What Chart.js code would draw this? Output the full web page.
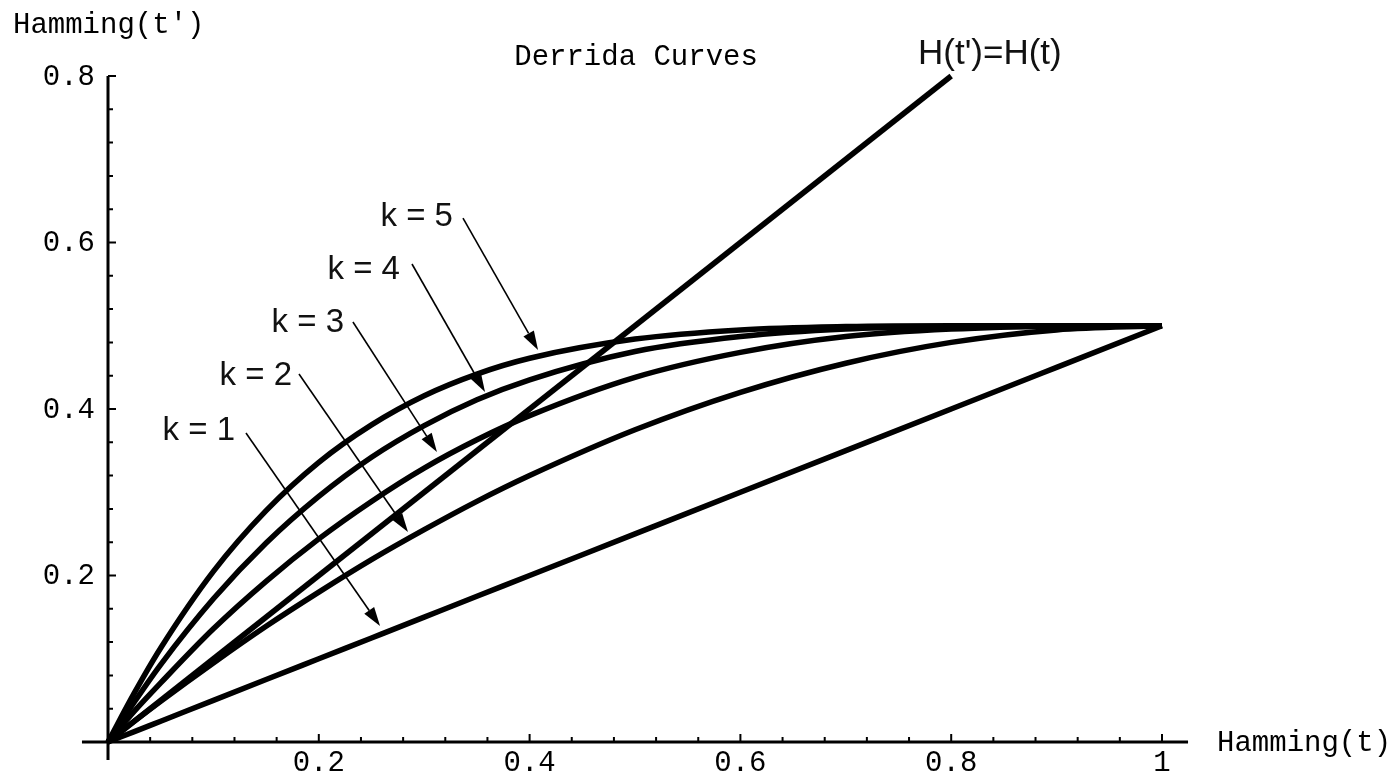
<!DOCTYPE html>
<html>
<head>
<meta charset="utf-8">
<script src="https://cdn.jsdelivr.net/npm/chart.js@4/dist/chart.umd.min.js"></script>
<style>
  body { margin: 0; background: #fff; }
</style>
</head>
<body>
<canvas id="derrida" width="1396" height="778"></canvas>
<script>
// Hamming distance at time t (x) and the values
hamming = [0, 0.025, 0.05, 0.1, 0.15, 0.2, 0.25, 0.3, 0.35, 0.4, 0.5, 0.6, 0.7, 0.8, 0.9, 1]
k1 = [0, 0.0125, 0.025, 0.05, 0.075, 0.1, 0.125, 0.15, 0.175, 0.2, 0.25, 0.3, 0.35, 0.4, 0.45, 0.5]
k2 = [0, 0.025, 0.049, 0.095, 0.139, 0.18, 0.219, 0.255, 0.289, 0.32, 0.375, 0.42, 0.455, 0.48, 0.495, 0.5]
k3 = [0, 0.037, 0.071, 0.136, 0.193, 0.244, 0.289, 0.329, 0.363, 0.392, 0.438, 0.468, 0.487, 0.496, 0.4995, 0.5]
k4 = [0, 0.048, 0.093, 0.172, 0.239, 0.295, 0.342, 0.38, 0.411, 0.435, 0.469, 0.487, 0.496, 0.499, 0.5, 0.5]
k5 = [0, 0.059, 0.113, 0.205, 0.278, 0.336, 0.381, 0.416, 0.442, 0.461, 0.484, 0.495, 0.499, 0.5, 0.5, 0.5]
seriesNames = ['k = 1', 'k = 2', 'k = 3', 'k = 4', 'k = 5']

// the H(t')=H(t) diagonal
diagX = [0, 0.8]
diagY = [0, 0.8]

xTicks = [0.2, 0.4, 0.6, 0.8, 1]
xTickLabels = ['0.2', '0.4', '0.6', '0.8', '1']
yTicks = [0.2, 0.4, 0.6, 0.8]
yTickLabels = ['0.2', '0.4', '0.6', '0.8']

// label + arrow placement (data coords): text right edge, arrow start, arrow tip
labelPos = [
  { tx: 0.1205, ty: 0.3736, sx: 0.1309, sy: 0.3712, ex: 0.2581, ey: 0.1393 },
  { tx: 0.1746, ty: 0.4396, sx: 0.1812, sy: 0.4420, ex: 0.2846, ey: 0.2523 },
  { tx: 0.2239, ty: 0.5033, sx: 0.2324, sy: 0.5045, ex: 0.3121, ey: 0.3483 },
  { tx: 0.2770, ty: 0.5670, sx: 0.2884, sy: 0.5742, ex: 0.3577, ey: 0.4204 },
  { tx: 0.3273, ty: 0.6306, sx: 0.3368, sy: 0.6294, ex: 0.4080, ey: 0.4709 }
]

function pts(xs, ys) {
  return xs.map((x, i) => ({ x: x, y: ys[i] }))
}

mono = '"Courier New", "Liberation Mono", monospace'
sans = 'Arial, "Liberation Sans", Helvetica, sans-serif'

curveStyle = {
  showLine: true,
  borderColor: '#000',
  borderWidth: 5.5,
  pointRadius: 0,
  fill: false,
  cubicInterpolationMode: 'monotone'
}

chartdata = {
  datasets: [
    Object.assign({ label: 'k = 1', data: pts(hamming, k1) }, curveStyle),
    Object.assign({ label: 'k = 2', data: pts(hamming, k2) }, curveStyle),
    Object.assign({ label: 'k = 3', data: pts(hamming, k3) }, curveStyle),
    Object.assign({ label: 'k = 4', data: pts(hamming, k4) }, curveStyle),
    Object.assign({ label: 'k = 5', data: pts(hamming, k5) }, curveStyle),
    Object.assign({ label: "H(t')=H(t)", data: pts(diagX, diagY) }, curveStyle, { cubicInterpolationMode: 'default' })
  ]
}

// axes crossing at the origin, Mathematica style
axesPlugin = {
  id: 'axes',
  beforeDatasetsDraw(chart) {
    const ctx = chart.ctx
    const xs = chart.scales.x, ys = chart.scales.y
    const x0 = xs.getPixelForValue(0), y0 = ys.getPixelForValue(0)
    ctx.save()
    ctx.strokeStyle = '#000'
    ctx.lineWidth = 3
    ctx.beginPath()
    ctx.moveTo(xs.getPixelForValue(-0.0247), y0)
    ctx.lineTo(xs.getPixelForValue(1.0247), y0)
    ctx.moveTo(x0, ys.getPixelForValue(-0.0216))
    ctx.lineTo(x0, ys.getPixelForValue(0.8))
    ctx.stroke()

    // minor ticks every 0.04, major ones at the labels
    ctx.lineWidth = 2
    ctx.beginPath()
    for (let i = 1; i <= 25; i++) {
      const v = i * 0.04
      const major = xTicks.some(t => Math.abs(t - v) < 1e-6)
      const px = xs.getPixelForValue(v)
      ctx.moveTo(px, y0)
      ctx.lineTo(px, y0 - (major ? 8 : 5))
    }
    for (let i = 1; i <= 20; i++) {
      const v = i * 0.04
      const major = yTicks.some(t => Math.abs(t - v) < 1e-6)
      const py = ys.getPixelForValue(v)
      ctx.moveTo(x0, py)
      ctx.lineTo(x0 + (major ? 8 : 5), py)
    }
    ctx.stroke()

    ctx.fillStyle = '#000'
    ctx.font = '29px ' + mono
    ctx.textAlign = 'center'
    ctx.textBaseline = 'middle'
    xTicks.forEach((t, i) => {
      ctx.fillText(xTickLabels[i], xs.getPixelForValue(t), y0 + 21)
    })
    ctx.textAlign = 'right'
    yTicks.forEach((t, i) => {
      ctx.fillText(yTickLabels[i], x0 - 13, ys.getPixelForValue(t) + 1)
    })

    // axis titles and plot label
    ctx.textAlign = 'left'
    ctx.fillText('Hamming(t)', xs.getPixelForValue(1.0247) + 29, y0 + 1)
    ctx.fillText('Hamming(t\u2032)', 13, 25)
    ctx.textAlign = 'center'
    ctx.fillText('Derrida Curves', xs.getPixelForValue(0.501), 57)
    ctx.restore()
  },
  afterDatasetsDraw(chart) {
    const ctx = chart.ctx
    const xs = chart.scales.x, ys = chart.scales.y
    ctx.save()
    ctx.strokeStyle = '#000'
    ctx.font = '33px ' + sans
    ctx.textBaseline = 'middle'
    ctx.textAlign = 'right'
    labelPos.forEach((p, i) => {
      ctx.fillStyle = '#111'
      ctx.fillText(seriesNames[i], xs.getPixelForValue(p.tx), ys.getPixelForValue(p.ty))
      const sx = xs.getPixelForValue(p.sx), sy = ys.getPixelForValue(p.sy)
      const ex = xs.getPixelForValue(p.ex), ey = ys.getPixelForValue(p.ey)
      const ang = Math.atan2(ey - sy, ex - sx)
      const len = 19, hw = 6
      const bx = ex - len * Math.cos(ang), by = ey - len * Math.sin(ang)
      ctx.lineWidth = 1.6
      ctx.beginPath()
      ctx.moveTo(sx, sy)
      ctx.lineTo(bx, by)
      ctx.stroke()
      ctx.fillStyle = '#000'
      ctx.beginPath()
      ctx.moveTo(ex, ey)
      ctx.lineTo(bx + hw * Math.sin(ang), by - hw * Math.cos(ang))
      ctx.lineTo(bx - hw * Math.sin(ang), by + hw * Math.cos(ang))
      ctx.closePath()
      ctx.fill()
    })
    // diagonal label
    ctx.fillStyle = '#111'
    ctx.textAlign = 'left'
    ctx.font = '35px ' + sans
    ctx.fillText("H(t')=H(t)", xs.getPixelForValue(0.7685), 54)
    ctx.restore()
  }
}

config = {
  type: 'scatter',
  data: chartdata,
  options: {
    responsive: false,
    animation: false,
    layout: { padding: 0 },
    plugins: {
      legend: { display: false },
      tooltip: { enabled: false },
      title: { display: false }
    },
    scales: {
      x: { type: 'linear', min: -0.10247, max: 1.22201, display: false },
      y: { type: 'linear', min: -0.04324, max: 0.89129, display: false }
    }
  },
  plugins: [axesPlugin]
}

var myChart = new Chart(document.getElementById('derrida'), config)
</script>
</body>
</html>
